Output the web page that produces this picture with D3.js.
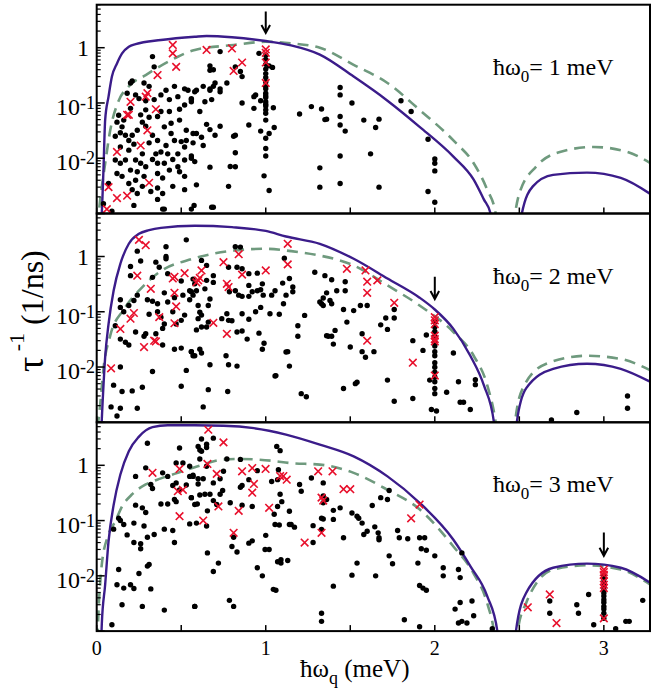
<!DOCTYPE html>
<html>
<head>
<meta charset="utf-8">
<script src="https://cdn.jsdelivr.net/npm/d3@7"></script>
<style>
  body { margin: 0; background: #fff; }
  svg, svg text { font-family: "Liberation Serif", "Times New Roman", Times, Tinos, "DejaVu Serif", serif; }
  svg { display: block; }
</style>
</head>
<body>
<div id="chart"></div>
<script>
// ---- data (x in meV, y = 1/tau in 1/ns) ----
const xTickValues = [0, 0.5, 1, 1.5, 2, 2.5, 3];
const xTickLabels = [0, 1, 2, 3];
const yMajorTicks = [1e-3, 1e-2, 1e-1, 1];
const yTickLabels = [[1, "1", ""], [0.1, "10", "-1"], [0.01, "10", "-2"]];
const omegaLabels = ["1", "2", "3"];
const arrowX = [1, 2, 3];
const arrowTop = [4.5, 0.43, 0.061];
const arrowTip = [1.85, 0.17, 0.023];

// panel 1 : hbar w0 = 1 meV
const solid1a = [[0.02,0.0005],[0.03,0.001],[0.04,0.0062],[0.05,0.049],[0.07,0.13],[0.09,0.3],[0.12,0.52],[0.15,0.79],[0.19,1.04],[0.23,1.16],[0.38,1.38],[0.58,1.58],[0.65,1.63],[0.8,1.55],[1.0,1.32],[1.15,1.1],[1.32,0.75],[1.52,0.3],[1.72,0.11],[1.91,0.037],[2.11,0.0107],[2.23,0.0041],[2.29,0.0018],[2.33,0.001],[2.345,0.0005]];
const solid1b = [[2.505,0.0005],[2.515,0.001],[2.58,0.0031],[2.7,0.005],[2.9,0.0055],[3.1,0.0044],[3.28,0.0022]];
const dashed1a = [[0.005,0.0006],[0.02,0.0017],[0.05,0.008],[0.08,0.032],[0.13,0.11],[0.19,0.2],[0.29,0.32],[0.46,0.64],[0.58,0.91],[0.81,1.12],[1.0,1.28],[1.15,1.2],[1.32,1.0],[1.52,0.49],[1.72,0.23],[1.91,0.075],[2.11,0.021],[2.23,0.0081],[2.31,0.0027],[2.36,0.001],[2.37,0.0006]];
const dashed1b = [[2.465,0.0006],[2.475,0.001],[2.5,0.0023],[2.6,0.0071],[2.74,0.013],[2.94,0.016],[3.14,0.013],[3.28,0.008]];
const dots1 = [[0.33,0.69],[0.34,0.45],[0.21,0.25],[0.2,0.23],[0.28,0.23],[0.31,0.2],[0.23,0.14],[0.18,0.15],[0.25,0.12],[0.29,0.11],[0.34,0.115],[0.38,0.14],[0.41,0.17],[0.46,0.2],[0.43,0.115],[0.48,0.13],[0.52,0.18],[0.54,0.17],[0.56,0.115],[0.52,0.092],[0.49,0.077],[0.43,0.07],[0.38,0.07],[0.36,0.057],[0.29,0.075],[0.26,0.061],[0.2,0.08],[0.16,0.049],[0.15,0.037],[0.14,0.029],[0.17,0.026],[0.19,0.021],[0.21,0.026],[0.24,0.032],[0.29,0.038],[0.33,0.026],[0.31,0.019],[0.36,0.021],[0.4,0.037],[0.44,0.043],[0.49,0.049],[0.53,0.032],[0.57,0.028],[0.53,0.021],[0.46,0.021],[0.41,0.017],[0.38,0.013],[0.35,0.012],[0.42,0.012],[0.48,0.012],[0.52,0.016],[0.57,0.019],[0.11,0.025],[0.14,0.016],[0.19,0.014],[0.17,0.0093],[0.11,0.0093],[0.14,0.0081],[0.23,0.0093],[0.26,0.0081],[0.29,0.007],[0.2,0.0061],[0.24,0.0057],[0.36,0.0081],[0.4,0.0081],[0.48,0.007],[0.52,0.0093],[0.56,0.01],[0.12,0.0053],[0.15,0.0047],[0.19,0.0035],[0.23,0.004],[0.28,0.0047],[0.36,0.0053],[0.39,0.0044],[0.43,0.0061],[0.49,0.0057],[0.52,0.0047],[0.21,0.0027],[0.24,0.0023],[0.27,0.0031],[0.32,0.0025],[0.36,0.0029],[0.39,0.0023],[0.45,0.0031],[0.52,0.0027],[0.36,0.0018],[0.07,0.0035],[0.04,0.0015],[0.22,0.0014],[0.4,0.0012],[0.56,0.0012],[0.09,0.0011],[0.13,0.06],[0.12,0.045],[0.27,0.045],[0.31,0.055],[0.44,0.028],[0.5,0.02],[0.33,0.0095],[0.45,0.0095],[0.27,0.012],[0.22,0.018],
  [0.73,0.85],[0.67,0.47],[0.69,0.4],[0.67,0.39],[0.77,0.23],[0.7,0.23],[0.69,0.2],[0.67,0.18],[0.67,0.17],[0.73,0.18],[0.73,0.16],[0.63,0.2],[0.59,0.17],[0.58,0.16],[0.56,0.12],[0.56,0.105],[0.61,0.07],[0.64,0.105],[0.68,0.115],[0.86,0.1],[0.93,0.08],[0.94,0.14],[0.97,0.11],[0.9,0.04],[0.73,0.038],[0.65,0.041],[0.67,0.033],[0.7,0.026],[0.59,0.028],[0.62,0.024],[0.63,0.017],[0.81,0.025],[0.82,0.026],[0.97,0.031],[1.02,0.028],[1.05,0.036],[1.04,0.44],[1.02,0.47],[0.82,0.45],[0.85,0.37],[0.86,0.3],[0.56,0.011],[0.58,0.0087],[0.67,0.0069],[0.79,0.0071],[0.82,0.007],[0.82,0.0126],[0.59,0.0033],[0.78,0.0031],[0.99,0.0048],[1.02,0.0026],[0.576,0.0014],[0.69,0.0013],[0.96,0.79],[0.93,0.13],[1.045,0.082],[0.39,0.0012],[0.68,0.0013],
  [1,0.74],[1,0.61],[1,0.5],[1,0.41],[1,0.34],[1,0.29],[1,0.24],[1,0.2],[1,0.18],[1,0.15],[1,0.135],[1,0.125],[1,0.105],[1,0.095],[1,0.088],[1,0.075],[1,0.065],[1,0.049],[1,0.023],[1,0.015],[1,0.011],
  [1.44,0.19],[1.44,0.14],[1.51,0.1],[1.33,0.078],[1.36,0.051],[1.44,0.057],[1.44,0.04],[1.47,0.031],[1.58,0.049],[1.65,0.036],[1.67,0.051],[1.8,0.11],[1.86,0.07],[1.96,0.022],[1.44,0.011],[1.62,0.012],[2,0.0097],[2,0.0081],[2,0.0059],[1.96,0.0025],[2,0.0016],[1.44,0.0035],[1.67,0.003],[1.32,0.003],[1.32,0.0067],[1.2,0.063],[1.27,0.086],[1.35,0.05]];
const crosses1 = [[0.45,1.12],[0.45,0.79],[0.47,0.45],[0.36,0.32],[0.3,0.15],[0.29,0.13],[0.35,0.077],[0.2,0.105],[0.18,0.061],[0.19,0.061],[0.3,0.032],[0.26,0.017],[0.12,0.013],[0.31,0.0036],[0.07,0.003],[0.12,0.0019],[0.18,0.0021],[0.06,0.0012],[1,0.93],[1,0.81],[1,0.54],[1,0.23],[0.65,0.91],[0.8,0.97],[0.86,0.54],[0.81,0.38]];

// panel 2 : hbar w0 = 2 meV
const solid2a = [[0.025,0.0005],[0.03,0.0011],[0.05,0.015],[0.07,0.06],[0.1,0.24],[0.14,0.74],[0.19,1.7],[0.25,2.57],[0.31,3.0],[0.38,3.3],[0.58,3.6],[0.8,3.4],[1.0,2.9],[1.12,2.3],[1.32,1.7],[1.52,0.91],[1.72,0.4],[1.91,0.18],[2.0,0.11],[2.11,0.049],[2.21,0.016],[2.29,0.0047],[2.35,0.001],[2.36,0.0005]];
const solid2b = [[2.48,0.0005],[2.485,0.001],[2.54,0.0041],[2.7,0.0093],[2.9,0.0115],[3.1,0.0093],[3.28,0.0053]];
const dashed2a = [[0.005,0.0008],[0.02,0.002],[0.04,0.0093],[0.08,0.037],[0.16,0.11],[0.26,0.26],[0.37,0.52],[0.57,0.91],[0.81,1.28],[1.0,1.38],[1.15,1.25],[1.32,1.04],[1.52,0.69],[1.72,0.3],[1.91,0.13],[2.11,0.043],[2.23,0.016],[2.31,0.0047],[2.36,0.001],[2.37,0.0006]];
const dashed2b = [[2.47,0.0006],[2.475,0.001],[2.52,0.0041],[2.66,0.0115],[2.9,0.016],[3.1,0.014],[3.28,0.0086]];
const dots2 = [[0.24,1.25],[0.53,2.0],[0.41,1.5],[0.41,1.0],[0.41,0.91],[0.35,0.79],[0.37,0.64],[0.2,0.66],[0.2,0.45],[0.33,0.42],[0.42,0.49],[0.5,0.36],[0.57,0.39],[0.4,0.22],[0.46,0.18],[0.51,0.2],[0.55,0.24],[0.57,0.2],[0.24,0.2],[0.22,0.16],[0.14,0.165],[0.14,0.12],[0.16,0.1],[0.19,0.13],[0.3,0.165],[0.33,0.155],[0.36,0.14],[0.31,0.09],[0.36,0.1],[0.38,0.08],[0.42,0.15],[0.45,0.1],[0.52,0.087],[0.5,0.07],[0.47,0.06],[0.4,0.06],[0.39,0.05],[0.35,0.04],[0.29,0.04],[0.28,0.036],[0.23,0.043],[0.14,0.032],[0.17,0.028],[0.19,0.025],[0.11,0.056],[0.39,0.025],[0.46,0.021],[0.5,0.022],[0.56,0.019],[0.57,0.016],[0.33,0.0083],[0.53,0.0087],[0.14,0.01],[0.1,0.0047],[0.15,0.0036],[0.21,0.0037],[0.27,0.0043],[0.085,0.0019],[0.14,0.0018],[0.24,0.0018],[0.12,0.0013],[0.5,0.0045],[0.26,0.83],
  [0.82,1.5],[0.85,1.48],[0.62,0.85],[0.65,0.69],[0.78,0.64],[0.83,0.64],[0.86,0.6],[0.9,0.49],[0.95,0.5],[0.69,0.45],[0.69,0.34],[0.65,0.37],[0.58,0.32],[0.64,0.26],[0.59,0.24],[0.56,0.23],[0.55,0.165],[0.6,0.13],[0.66,0.13],[0.67,0.17],[0.785,0.23],[0.82,0.24],[0.84,0.2],[0.86,0.19],[0.9,0.3],[0.9,0.19],[0.92,0.23],[0.95,0.24],[0.97,0.25],[0.98,0.32],[0.985,0.2],[1.035,0.2],[1.055,0.24],[1.1,0.33],[1.12,0.2],[1.105,0.14],[1.025,0.092],[1.08,0.09],[0.97,0.12],[0.94,0.1],[0.86,0.092],[0.77,0.092],[0.74,0.075],[0.78,0.07],[0.8,0.069],[0.9,0.073],[0.61,0.098],[0.62,0.087],[0.6,0.075],[0.66,0.065],[0.62,0.053],[0.65,0.053],[0.59,0.047],[0.83,0.043],[0.86,0.045],[0.96,0.041],[0.99,0.027],[0.98,0.021],[0.89,0.032],[0.56,0.019],[0.58,0.016],[0.61,0.021],[0.62,0.018],[0.765,0.016],[0.67,0.011],[0.78,0.011],[0.83,0.0104],[1.055,0.0069],[1.13,0.019],[1.14,0.0104],[0.66,0.0039],[0.775,0.0036],[0.63,0.0019],
  [1.34,0.177],[1.32,0.15],[1.29,0.52],[1.23,0.086],[1.19,0.056],[1.19,0.036],[1.21,0.0033],[1.24,0.0029],[1.12,0.0187],[1.06,0.007],[1.11,0.93],[1.14,0.4],[1.16,0.28],[1.16,0.23],[1.36,0.037],
  [1.35,0.45],[1.39,0.38],[1.47,0.35],[1.36,0.22],[1.42,0.24],[1.47,0.24],[1.38,0.16],[1.39,0.14],[1.33,0.14],[1.34,0.13],[1.46,0.11],[1.52,0.105],[1.56,0.13],[1.6,0.13],[1.48,0.065],[1.68,0.058],[1.71,0.077],[1.72,0.048],[1.76,0.11],[1.76,0.077],[1.41,0.046],[1.37,0.036],[1.39,0.036],[1.4,0.026],[1.5,0.023],[1.57,0.019],[1.59,0.015],[1.64,0.019],[1.57,0.04],[1.87,0.03],[1.93,0.02],[1.95,0.038],[2.11,0.018],[1.72,0.0058],[1.53,0.005],[1.54,0.0053],[1.46,0.0041],[1.76,0.0024],[1.87,0.0027],[1.97,0.0058],[2.07,0.0035],[2.14,0.0054],[2.15,0.0023],[2.17,0.0023],[2.21,0.0017],[2.24,0.0059],[2.24,0.0048],[1.98,0.0017],[2.01,0.0016],[2.69,0.0011],[2.84,0.0015],[3.14,0.003],[3.14,0.0018],
  [2,0.065],[2,0.053],[2,0.044],[2,0.036],[2,0.029],[2,0.024],[2,0.019],[2,0.016],[2,0.012],[2,0.0099],[2,0.0081],[2,0.0066],[2,0.0054],[2,0.0041],[2,0.0033]];
const crosses2 = [[0.25,2.0],[0.29,1.6],[0.24,0.45],[0.32,0.26],[0.46,0.43],[0.45,0.4],[0.52,0.5],[0.46,0.22],[0.47,0.125],[0.37,0.08],[0.2,0.075],[0.22,0.095],[0.14,0.049],[0.46,0.062],[0.34,0.03],[0.35,0.029],[0.28,0.023],[0.085,0.0095],[0.75,0.79],[0.84,1.1],[0.62,0.56],[0.61,0.41],[0.6,0.37],[0.59,0.34],[0.77,0.32],[0.78,0.28],[0.86,0.47],[1.0,0.56],[1.13,1.7],[1.13,0.72],[0.69,0.063],[0.77,0.04],[1.48,0.6],[1.59,0.56],[1.6,0.35],[1.66,0.37],[1.6,0.22],[1.76,0.145],[1.6,0.03],[1.87,0.012],[2,0.08],[2,0.07],[2,0.06],[2,0.037],[2,0.032],[2,0.029],[2,0.007]];

// panel 3 : hbar w0 = 3 meV
const solid3a = [[0.025,0.0005],[0.03,0.0013],[0.05,0.0069],[0.07,0.042],[0.1,0.19],[0.14,0.68],[0.19,1.8],[0.25,3.3],[0.33,4.9],[0.42,5.3],[0.58,5.3],[0.75,5.2],[0.93,4.7],[1.12,3.6],[1.32,2.37],[1.52,1.45],[1.72,0.63],[1.91,0.21],[2.11,0.045],[2.21,0.015],[2.31,0.0043],[2.37,0.001],[2.38,0.0005]];
const solid3b = [[2.475,0.0005],[2.48,0.001],[2.54,0.0049],[2.7,0.014],[2.9,0.0166],[3.1,0.014],[3.28,0.0073]];
const dashed3a = [[0.005,0.0007],[0.01,0.002],[0.02,0.0069],[0.03,0.016],[0.07,0.056],[0.11,0.097],[0.15,0.18],[0.21,0.3],[0.29,0.45],[0.38,0.58],[0.46,0.7],[0.58,0.92],[0.75,1.27],[0.85,1.3],[1.045,1.2],[1.14,1.1],[1.32,1.03],[1.52,0.73],[1.72,0.36],[1.91,0.16],[2.11,0.034],[2.23,0.011],[2.31,0.0032],[2.35,0.001],[2.36,0.0006]];
const dashed3b = [[2.485,0.0006],[2.49,0.001],[2.54,0.0032],[2.7,0.013],[2.9,0.0155],[3.1,0.013],[3.28,0.0068]];
const dots3 = [[0.3,2.5],[0.49,2.06],[0.47,1.1],[0.51,1.1],[0.55,0.96],[0.55,0.63],[0.57,0.63],[0.23,0.63],[0.29,0.9],[0.39,0.73],[0.32,0.45],[0.33,0.38],[0.42,0.63],[0.45,0.43],[0.47,0.48],[0.53,0.44],[0.49,0.36],[0.46,0.24],[0.47,0.22],[0.56,0.26],[0.58,0.195],[0.38,0.2],[0.42,0.2],[0.23,0.19],[0.27,0.17],[0.29,0.14],[0.13,0.11],[0.14,0.1],[0.16,0.085],[0.22,0.09],[0.28,0.08],[0.18,0.055],[0.3,0.05],[0.34,0.056],[0.4,0.07],[0.45,0.066],[0.55,0.087],[0.46,0.04],[0.22,0.04],[0.26,0.038],[0.26,0.031],[0.1,0.07],[0.31,0.016],[0.3,0.015],[0.25,0.011],[0.13,0.013],[0.12,0.0069],[0.16,0.006],[0.2,0.0069],[0.22,0.0059],[0.32,0.0058],[0.15,0.003],[0.27,0.0028],[0.4,0.0024],[0.58,0.0028],[0.09,0.0013],
  [0.62,3.0],[0.69,3.1],[0.6,2.2],[0.61,1.9],[0.62,1.8],[0.65,2.4],[0.65,2.1],[0.61,1.3],[0.77,1.3],[0.85,1.28],[0.65,0.96],[0.57,0.66],[0.6,0.57],[0.63,0.57],[0.6,0.46],[0.73,0.57],[0.69,0.48],[0.75,0.78],[0.745,0.35],[0.73,0.3],[0.56,0.26],[0.61,0.29],[0.64,0.3],[0.67,0.3],[0.595,0.2],[0.69,0.23],[0.71,0.195],[0.79,0.21],[0.86,0.19],[0.92,0.18],[0.85,0.4],[0.86,0.43],[0.9,0.55],[0.95,0.8],[1.035,0.51],[1.07,0.55],[1.075,0.83],[1.065,2.2],[1.085,1.84],[1.085,0.3],[1.095,0.22],[1.07,0.18],[1.05,0.13],[1.055,0.085],[1.08,0.083],[1.14,0.085],[0.59,0.09],[0.655,0.15],[0.65,0.08],[0.81,0.05],[0.8,0.034],[0.83,0.027],[0.9,0.039],[0.92,0.043],[1.0,0.054],[0.996,0.03],[1.02,0.03],[0.655,0.026],[0.72,0.017],[0.69,0.012],[0.95,0.014],[0.98,0.01],[1.09,0.017],[1.13,0.019],[1.06,0.0055],[0.785,0.0036],[0.81,0.0028],[0.58,0.0028],
  [1.2,0.45],[1.21,0.34],[1.27,0.59],[1.28,0.081],[1.34,0.107],[1.28,0.04],[1.14,0.147],[1.15,0.085],[1.17,0.076],[1.045,0.0057],[1.09,0.0196],[1.07,0.018],
  [1.34,0.48],[1.34,0.28],[1.34,0.21],[1.33,0.11],[1.33,0.069],[1.36,0.24],[1.4,0.153],[1.44,0.17],[1.4,0.105],[1.46,0.049],[1.51,0.137],[1.54,0.12],[1.55,0.11],[1.57,0.09],[1.58,0.056],[1.6,0.064],[1.63,0.187],[1.645,0.077],[1.665,0.06],[1.67,0.049],[1.68,0.26],[1.72,0.24],[1.73,0.35],[1.67,0.045],[1.73,0.023],[1.75,0.0165],[1.78,0.066],[1.79,0.049],[1.84,0.047],[1.91,0.049],[1.94,0.049],[1.92,0.031],[1.95,0.029],[2.0,0.023],[1.9,0.017],[1.54,0.017],[1.51,0.0103],[1.65,0.01],[1.93,0.006],[1.95,0.0055],[2.05,0.014],[2.05,0.01],[2.14,0.013],[2.15,0.0093],[2.16,0.026],[1.4,0.0065],[1.91,0.0067],[2.15,0.0033],[2.22,0.0035],[2.12,0.0025],[2.14,0.0014],[2.16,0.0015],[2.19,0.0014],[2.23,0.0019],[1.33,0.0021],[1.33,0.0015],[1.82,0.0016],[1.91,0.0012],[2.34,0.0011],[2.68,0.0035],[2.68,0.0021],[2.84,0.003],[2.85,0.0021],[2.91,0.0046],[2.94,0.0013],[3.07,0.0011],[3.13,0.0015],[3.15,0.0015],[3.23,0.0036],
  [3,0.01],[3,0.0087],[3,0.0075],[3,0.0065],[3,0.0056],[3,0.0049],[3,0.0043],[3,0.0037],[3,0.0033],[3,0.0028],[3,0.0025],[3,0.0021],[3,0.0017]];
const crosses3 = [[0.33,0.73],[0.49,0.86],[0.48,0.34],[0.51,0.36],[0.49,0.12],[0.66,4.4],[0.75,2.6],[0.655,1.06],[0.71,0.7],[0.86,0.78],[0.92,0.89],[0.93,0.46],[0.92,0.32],[0.999,0.86],[1.085,0.64],[1.104,0.64],[1.124,0.55],[0.72,0.18],[0.84,0.15],[1.02,0.17],[0.63,0.1],[0.81,0.06],[1.31,0.78],[1.33,0.26],[1.34,0.23],[1.23,0.04],[1.33,0.06],[1.395,0.78],[1.46,0.37],[1.5,0.37],[1.91,0.195],[1.86,0.11],[2.55,0.0027],[2.68,0.0046],[2.72,0.0014],[3,0.013],[3,0.0117],[3,0.0104],[3,0.008],[3,0.0069],[3,0.006],[3,0.0017]];

const panels = [
  {solid: [solid1a, solid1b], dashed: [dashed1a, dashed1b], dots: dots1, crosses: crosses1},
  {solid: [solid2a, solid2b], dashed: [dashed2a, dashed2b], dots: dots2, crosses: crosses2},
  {solid: [solid3a, solid3b], dashed: [dashed3a, dashed3b], dots: dots3, crosses: crosses3}
];

// ---- layout ----
const W = 651, H = 698;
const plotL = 96.7, plotR = 650, plotT = 4.7;
const panelH = 208.8;
const serif = "'Liberation Serif', 'Times New Roman', Times, Tinos, 'DejaVu Serif', serif";

const svg = d3.select("#chart").append("svg")
  .attr("width", W).attr("height", H)
  .attr("font-family", serif);

const x = d3.scaleLinear().domain([0, 3.273]).range([plotL, plotR]);
const y = d3.scaleLog().domain([1e-3, 6]).range([panelH, 0]);

const line = d3.line()
  .x(d => x(d[0]))
  .y(d => y(d[1]))
  .curve(d3.curveMonotoneX);

const solidColor = "#3b1c8a";
const dashColor = "#6f9a7e";
const crossColor = "#e8102c";

panels.forEach((p, i) => {
  const g = svg.append("g").attr("transform", `translate(0,${plotT + i * panelH})`);

  g.append("clipPath").attr("id", "clip" + i)
    .append("rect")
    .attr("x", plotL).attr("y", 0)
    .attr("width", plotR - plotL).attr("height", panelH);

  const inner = g.append("g").attr("clip-path", `url(#clip${i})`);

  // theory curves
  p.dashed.forEach(seg => {
    inner.append("path")
      .attr("d", line(seg))
      .attr("fill", "none")
      .attr("stroke", dashColor)
      .attr("stroke-width", 2.6)
      .attr("stroke-dasharray", "11,7");
  });
  p.solid.forEach(seg => {
    inner.append("path")
      .attr("d", line(seg))
      .attr("fill", "none")
      .attr("stroke", solidColor)
      .attr("stroke-width", 2.4);
  });

  // simulation points
  inner.selectAll("circle.dot")
    .data(p.dots)
    .enter()
    .append("circle")
    .attr("class", "dot")
    .attr("cx", d => x(d[0]))
    .attr("cy", d => y(d[1]))
    .attr("r", 2.7)
    .attr("fill", "#000");

  const s = 3.8;
  inner.selectAll("path.cross")
    .data(p.crosses)
    .enter()
    .append("path")
    .attr("class", "cross")
    .attr("d", d => {
      const cx = x(d[0]), cy = y(d[1]);
      return `M${cx - s},${cy - s}L${cx + s},${cy + s}M${cx - s},${cy + s}L${cx + s},${cy - s}`;
    })
    .attr("stroke", crossColor)
    .attr("stroke-width", 1.6)
    .attr("fill", "none");

  // arrow marking hbar w0
  const ax = x(arrowX[i]), ay0 = y(arrowTop[i]), ay1 = y(arrowTip[i]);
  g.append("path")
    .attr("d", `M${ax},${ay0}L${ax},${ay1}M${ax - 4.3},${ay1 - 8}L${ax},${ay1}L${ax + 4.3},${ay1 - 8}`)
    .attr("stroke", "#000")
    .attr("stroke-width", 2)
    .attr("fill", "none");

  // x ticks (inward, bottom)
  g.selectAll("line.xt")
    .data(xTickValues)
    .enter()
    .append("line")
    .attr("x1", d => x(d)).attr("x2", d => x(d))
    .attr("y1", panelH).attr("y2", panelH - 6)
    .attr("stroke", "#000").attr("stroke-width", 1.5);

  // y ticks (major and minor, inward, left)
  const minor = [];
  yMajorTicks.forEach(dec => {
    for (let k = 2; k <= 9; k++) if (k * dec <= 6) minor.push(k * dec);
  });
  g.selectAll("line.ymaj")
    .data(yMajorTicks)
    .enter()
    .append("line")
    .attr("x1", plotL).attr("x2", plotL + 8)
    .attr("y1", d => y(d)).attr("y2", d => y(d))
    .attr("stroke", "#000").attr("stroke-width", 1.5);
  g.selectAll("line.ymin")
    .data(minor)
    .enter()
    .append("line")
    .attr("x1", plotL).attr("x2", plotL + 4)
    .attr("y1", d => y(d)).attr("y2", d => y(d))
    .attr("stroke", "#000").attr("stroke-width", 1.2);

  // y tick labels
  yTickLabels.forEach(([v, base, sup]) => {
    const ty = y(v);
    if (sup === "") {
      g.append("text")
        .attr("x", 89).attr("y", ty + 8)
        .attr("text-anchor", "end")
        .attr("font-size", 24)
        .text(base);
    } else {
      const t = g.append("text")
        .attr("x", 95).attr("y", ty + 12)
        .attr("text-anchor", "end")
        .attr("font-size", 24);
      t.append("tspan").text(base);
      t.append("tspan").attr("dy", -6).attr("font-size", 18).text(sup);
    }
  });

  // panel label
  const lab = g.append("text")
    .attr("x", 493).attr("y", 70)
    .attr("font-size", 24);
  lab.append("tspan").text("ħω");
  lab.append("tspan").attr("dy", 7).attr("font-size", 17).text("0");
  lab.append("tspan").attr("dy", -7).text("= " + omegaLabels[i] + " meV");

  // frame
  g.append("rect")
    .attr("x", plotL).attr("y", 0)
    .attr("width", plotR - plotL).attr("height", panelH)
    .attr("fill", "none")
    .attr("stroke", "#000")
    .attr("stroke-width", 2);
});

// x tick labels under the last panel
const plotB = plotT + 3 * panelH;
svg.selectAll("text.xl")
  .data(xTickLabels)
  .enter()
  .append("text")
  .attr("x", d => x(d))
  .attr("y", plotB + 24)
  .attr("text-anchor", "middle")
  .attr("font-size", 20)
  .text(d => d);

// x axis title
const xt = svg.append("text")
  .attr("x", 300).attr("y", plotB + 46)
  .attr("font-size", 25);
xt.append("tspan").text("ħω");
xt.append("tspan").attr("dy", 7).attr("font-size", 18).text("q");
xt.append("tspan").attr("dy", -7).text(" (meV)");

// y axis title
const yt = svg.append("text")
  .attr("transform", "translate(43,372) rotate(-90)")
  .attr("text-anchor", "start");
yt.append("tspan").attr("font-size", 38).text("τ");
yt.append("tspan").attr("dy", -19).attr("font-size", 22).text(" -1");
yt.append("tspan").attr("dy", 19).attr("font-size", 32).text(" (1/ns)");
</script>
</body>
</html>
